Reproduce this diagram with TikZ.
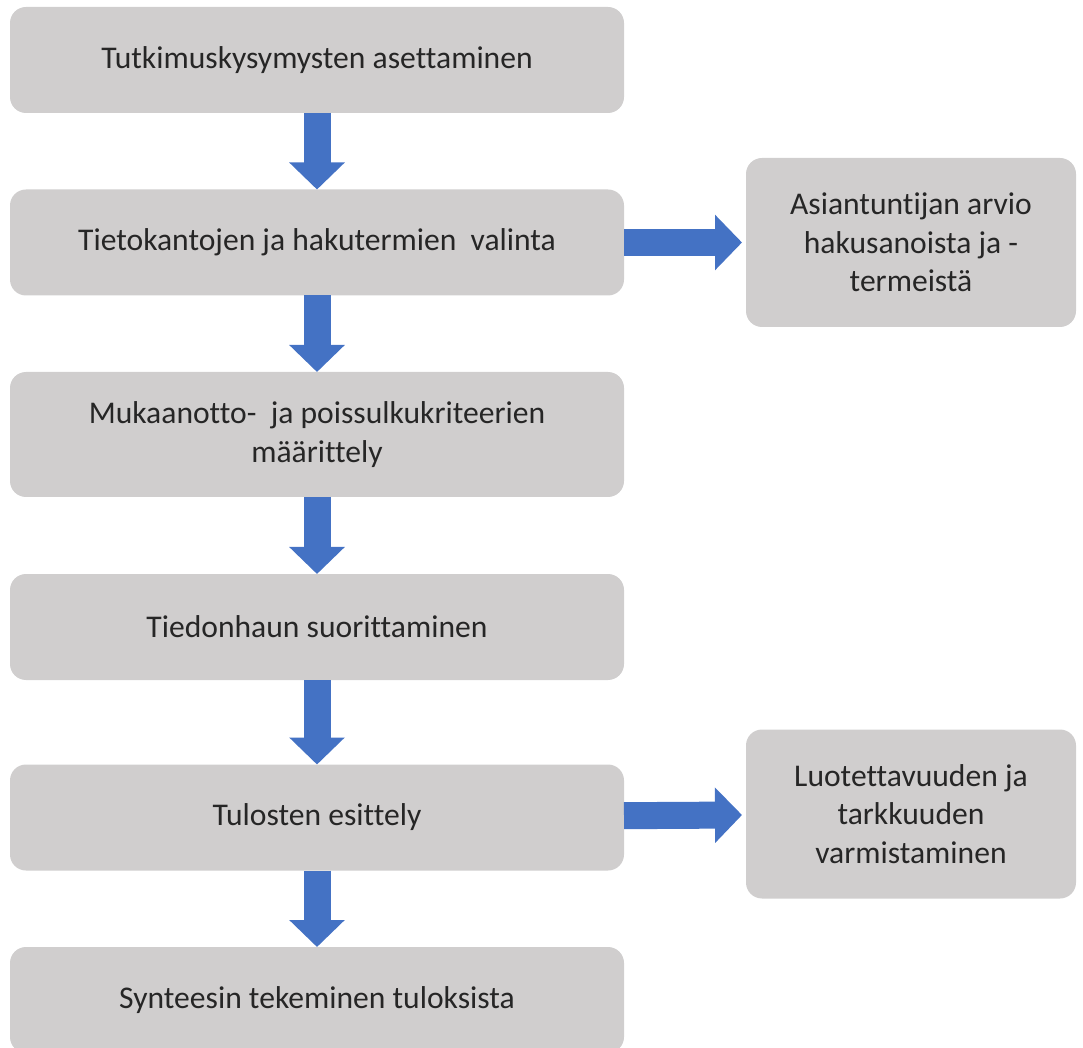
\documentclass[tikz,border=0pt]{standalone}
\usepackage{fontspec}
\setmainfont{Carlito}[Ligatures=NoCommon]
\usetikzlibrary{arrows.meta}
\definecolor{boxgray}{HTML}{D0CECE}
\definecolor{arrowblue}{HTML}{4472C4}
\tikzset{
    every node/.style={rectangle, rounded corners=8pt, fill=boxgray,
    	text=black!85, align=center, inner sep=0pt, outer sep=0pt,
    	font=\fontsize{15.8}{19.3}\selectfont}
}
\tikzset{
    stepbox/.style={minimum width=307pt, minimum height=53pt},
    sidebox/.style={minimum width=165pt, minimum height=84.5pt}
}
\tikzset{
    every edge/.append style={draw=arrowblue, line width=13.5pt,
    	-{Triangle[length=13.5pt, width=27pt]}}
}

\begin{document}
\begin{tikzpicture}[x=0.5pt, y=-0.5pt]
  \useasboundingbox (0,0) rectangle (1083,1048);
  \node[stepbox] (b1) at (317, 60) {Tutkimuskysymysten asettaminen};
  \node[stepbox] (b2) at (317, 242.5) {Tietokantojen ja hakutermien~ valinta};
  \node[stepbox, minimum height=62.5pt] (b3) at (317, 434.5)
  	{Mukaanotto-~ ja poissulkukriteerien\\määrittely};
  \node[stepbox] (b4) at (317, 627) {Tiedonhaun suorittaminen};
  \node[stepbox] (b5) at (317, 817.5) {Tulosten esittely};
  \node[stepbox] (b6) at (317, 1000) {Synteesin tekeminen tuloksista};
  \node[sidebox] (rA) at (911, 242.5) {Asiantuntijan arvio\\hakusanoista ja -\\termeistä};
  \node[sidebox] (rB) at (911, 814) {Luotettavuuden ja\\tarkkuuden\\varmistaminen};

  \draw (b1) edge (b2); \draw (b2) edge (b3); \draw (b3) edge (b4);
  \draw (b4) edge (b5); \draw (b5) edge (b6);
  \draw (b2) edge[shorten >=2pt] (rA); \draw (b5) edge[shorten >=2pt] (rB);
\end{tikzpicture}
\end{document}
